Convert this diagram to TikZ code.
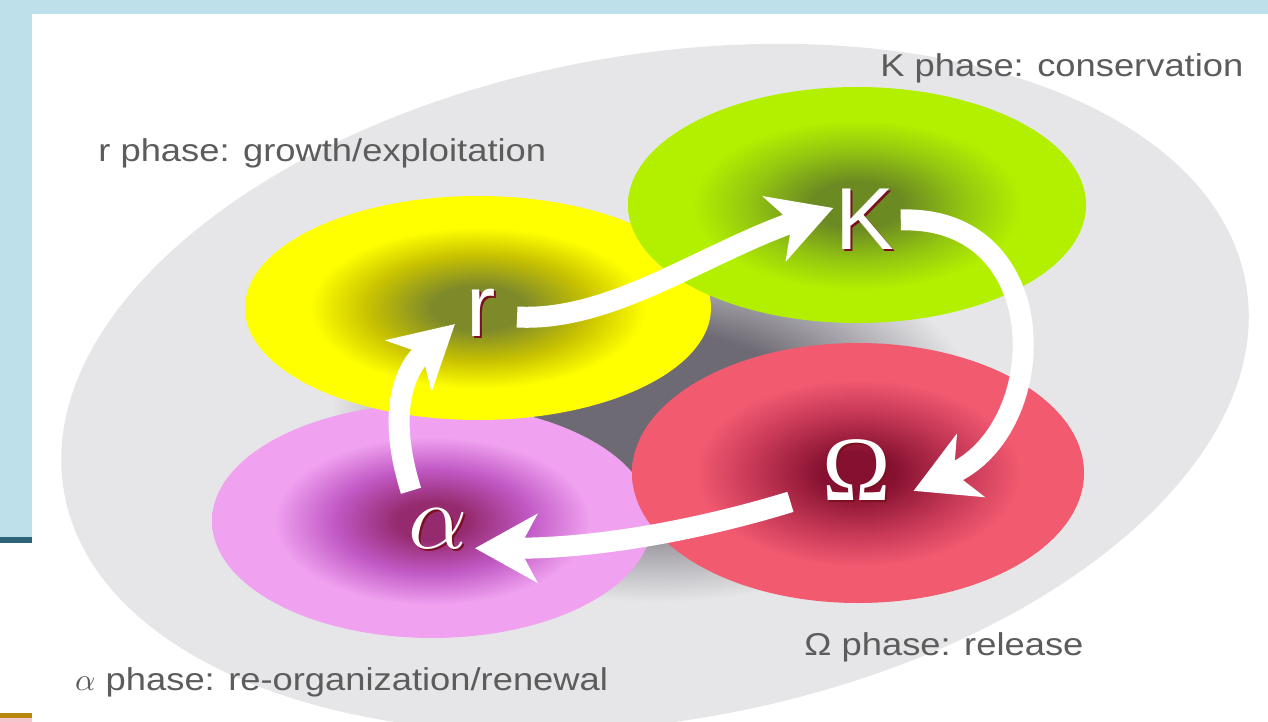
\documentclass[tikz,border=0pt]{standalone}
\usepackage{fontspec}
\setsansfont{Liberation Sans}
\newfontfamily\labelfont[FakeStretch=1.15]{Liberation Sans}
\newfontfamily\greekfont{Liberation Serif}
\newfontfamily\alphafont{Latin Modern Math}
\usetikzlibrary{arrows.meta}

\definecolor{slideblue}{HTML}{BEE0EA}
\definecolor{slideteal}{HTML}{2E6478}
\definecolor{slidegold}{HTML}{B8860B}
\definecolor{slidepink}{HTML}{F4C6CE}
\definecolor{labelgrey}{HTML}{5C5C5C}
\definecolor{shadowred}{HTML}{7A1020}
\definecolor{ycore}{HTML}{7E8A2A}
\definecolor{ymid}{HTML}{C9C300}
\definecolor{yedge}{HTML}{FFFF00}
\definecolor{gcore}{HTML}{6C8A22}
\definecolor{gmid}{HTML}{94C810}
\definecolor{gedge}{HTML}{B2F000}
\definecolor{rcore}{HTML}{861030}
\definecolor{rmid}{HTML}{C83A58}
\definecolor{redge}{HTML}{F25A70}
\definecolor{pcore}{HTML}{962A6E}
\definecolor{pmid}{HTML}{C058C4}
\definecolor{pedge}{HTML}{F0A2F0}
\definecolor{cloudcore}{HTML}{6E6A74}
\definecolor{cloudedge}{HTML}{E6E6E8}

\pgfdeclareradialshading{yellowshade}{\pgfpointorigin}{color(0bp)=(ycore); color(5bp)=(ycore); color(12bp)=(ymid); color(18bp)=(yedge); color(25bp)=(yedge); color(50bp)=(yedge)}
\pgfdeclareradialshading{greenshade}{\pgfpointorigin}{color(0bp)=(gcore); color(5bp)=(gcore); color(12bp)=(gmid); color(18bp)=(gedge); color(25bp)=(gedge); color(50bp)=(gedge)}
\pgfdeclareradialshading{redshade}{\pgfpointorigin}{color(0bp)=(rcore); color(4bp)=(rcore); color(12bp)=(rmid); color(18bp)=(redge); color(25bp)=(redge); color(50bp)=(redge)}
\pgfdeclareradialshading{pinkshade}{\pgfpointorigin}{color(0bp)=(pcore); color(4bp)=(pcore); color(11bp)=(pmid); color(18bp)=(pedge); color(25bp)=(pedge); color(50bp)=(pedge)}
\pgfdeclareradialshading{cloudshade}{\pgfpointorigin}{color(0bp)=(cloudcore); color(6bp)=(cloudcore); color(13bp)=(cloudedge); color(25bp)=(cloudedge); color(50bp)=(cloudedge)}

\begin{document}
\begin{tikzpicture}[x=0.5pt,y=-0.5pt,
  lbl/.style={font=\labelfont\fontsize{15.8}{19}\selectfont, text=labelgrey, anchor=base west, inner sep=0pt},
  glyph/.style={inner sep=0pt},
  flow/.style={white, line width=10.5pt, -{Stealth[length=31pt,width=34pt,inset=9pt]}}]
  \useasboundingbox (0,0) rectangle (1268,722);
  % slide frame
  \fill[white] (0,0) rectangle (1268,722);
  \fill[slideblue] (0,0) rectangle (1268,14);
  \fill[slideblue] (0,0) rectangle (32,537);
  \fill[slideteal] (0,537) rectangle (32,543);
  \fill[slidegold] (0,713) rectangle (32,718);
  \fill[slidepink] (0,718) rectangle (32,722);

  % cloud and the four phases
  \shade[shading=cloudshade, rotate around={10:(655,388)}] (655,388) ellipse [x radius=600, y radius=333];
  \shade[shading=pinkshade] (432,521) ellipse [x radius=220, y radius=117];
  \shade[shading=yellowshade] (478,308) ellipse [x radius=233, y radius=112];
  \shade[shading=redshade] (858,473) ellipse [x radius=226, y radius=130];
  \shade[shading=greenshade] (857,205) ellipse [x radius=229, y radius=118];

  % letters, shadow first
  \foreach \d/\c in {2/shadowred, 0/white} {
    \node[glyph, text=\c, font=\sffamily\fontsize{44}{44}\selectfont] (r) at (481+\d,313+\d) {r};
    \node[glyph, text=\c, font=\sffamily\fontsize{44}{44}\selectfont] (K) at (865+\d,219+\d) {K};
    \node[glyph, text=\c, font=\greekfont\fontsize{46}{46}\selectfont] (omega) at (857+\d,470+\d) {Ω};
    \node[glyph, text=\c, font=\alphafont\fontsize{46}{46}\selectfont] (alpha) at (438+\d,529+\d) {𝛼};
  }

  % cycle
  \draw[flow] ([shift={(21,4)}]r.east) .. controls +(93,5) and +(-133,47) .. ([shift={(-2,-11)}]K.west);
  \draw[flow] ([shift={(6,1)}]K.east) .. controls +(155,-5) and +(140,-62) .. ([shift={(22,-10)}]omega.south east);
  \draw[flow] ([shift={(-32,1)}]omega.south west) .. controls +(-88,27) and +(125,0) .. ([shift={(37,-2)}]alpha.south);
  \draw[flow] ([shift={(-27,-17)}]alpha.north) .. controls +(-25,-80) and +(-50,45) .. ([shift={(-11,-13)}]r.south west);

  % phase labels
  \node[lbl] (rlabel) at (98,162) {r phase: growth/exploitation};
  \node[lbl] (Klabel) at (880,77) {K phase: conservation};
  \node[lbl] (omegalabel) at (804,655) {Ω phase: release};
  \node[lbl] (alphalabel) at (75,690) {{\alphafont 𝛼} phase: re-organization/renewal};
\end{tikzpicture}
\end{document}
